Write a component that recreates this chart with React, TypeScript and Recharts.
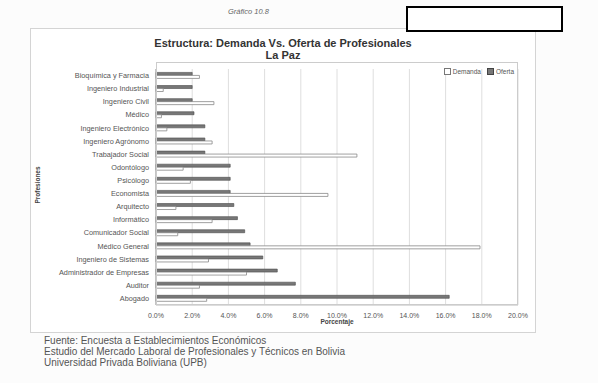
import React from 'react';
import { BarChart, Bar, XAxis, YAxis, CartesianGrid, Legend } from 'recharts';

// Profesiones, de arriba hacia abajo
const profesiones = [
    'Bioquímica y Farmacia',
    'Ingeniero Industrial',
    'Ingeniero Civil',
    'Médico',
    'Ingeniero Electrónico',
    'Ingeniero Agrónomo',
    'Trabajador Social',
    'Odontólogo',
    'Psicólogo',
    'Economista',
    'Arquitecto',
    'Informático',
    'Comunicador Social',
    'Médico General',
    'Ingeniero de Sistemas',
    'Administrador de Empresas',
    'Auditor',
    'Abogado',
];

const demanda = [2.4, 0.4, 3.2, 0.3, 0.6, 3.1, 11.1, 1.5, 1.9, 9.5, 1.1, 3.1, 1.2, 17.9, 2.9, 5.0, 2.4, 2.8];
const oferta = [2.0, 2.0, 2.0, 2.1, 2.7, 2.7, 2.7, 4.1, 4.1, 4.1, 4.3, 4.5, 4.9, 5.2, 5.9, 6.7, 7.7, 16.2];

const xTicks = [0, 2, 4, 6, 8, 10, 12, 14, 16, 18, 20];

const chartData = profesiones.map((name, i) => ({
    name,
    demanda: demanda[i],
    oferta: oferta[i],
}));

const FONT = '"Liberation Sans", Arial, sans-serif';

const LegendBox = () => (
    <div style={{ display: 'flex', gap: 6, fontSize: 6.5, color: '#555', fontFamily: FONT, justifyContent: 'flex-end' }}>
        <span style={{ display: 'flex', alignItems: 'center', gap: 2 }}>
            <span style={{ width: 5, height: 5, border: '1px solid #777', background: '#fff' }} />
            Demanda
        </span>
        <span style={{ display: 'flex', alignItems: 'center', gap: 2 }}>
            <span style={{ width: 5, height: 5, border: '1px solid #444', background: '#777' }} />
            Oferta
        </span>
    </div>
);

// category labels on one line, right aligned
const CategoryTick = (props: any) => {
    const { x, y, payload } = props;
    return (
        <text x={x + 1} y={y} dy={2.5} textAnchor="end" fontSize={7.3} fill="#555" fontFamily={FONT}>
            {payload.value}
        </text>
    );
};

const App: React.FC = () => {
    return (
        <div style={{ position: 'fixed', left: 0, top: 0, width: 598, height: 383, background: '#fcfcfc', fontFamily: FONT, overflow: 'hidden' }}>
            {/* chart frame */}
            <div style={{ position: 'absolute', left: 30, top: 28, width: 504, height: 303, border: '1px solid #d4d4d4', background: '#fff' }} />
            <div style={{ position: 'absolute', left: 228, top: 7, fontSize: 7.5, fontStyle: 'italic', color: '#666' }}>
                Gráfico 10.8
            </div>
            <div style={{ position: 'absolute', left: 406, top: 6, width: 153, height: 22, border: '2px solid #000', background: '#fff' }} />
            <div style={{ position: 'absolute', left: 0, width: 566, top: 37, textAlign: 'center', fontSize: 11, fontWeight: 'bold', color: '#333', lineHeight: '12px' }}>
                Estructura: Demanda Vs. Oferta de Profesionales
                <br />
                La Paz
            </div>

            <div style={{ position: 'absolute', left: 0, top: 0 }}>
                <BarChart
                    width={598}
                    height={383}
                    data={chartData}
                    layout="vertical"
                    margin={{ top: 62, right: 80, left: 46, bottom: 56 }}
                    barCategoryGap="26%"
                    barGap={0}
                >
                    <CartesianGrid horizontal={false} stroke="#dedede" />
                    <XAxis
                        type="number"
                        domain={[0, 20]}
                        ticks={xTicks}
                        tickFormatter={(v: number) => `${v.toFixed(1)}%`}
                        tick={{ fontSize: 7, fill: '#555', fontFamily: FONT }}
                        tickLine={false}
                        axisLine={{ stroke: '#bbb' }}
                        interval={0}
                        height={22}
                    />
                    <YAxis
                        type="category"
                        dataKey="name"
                        width={110}
                        interval={0}
                        tick={<CategoryTick />}
                        tickLine={false}
                        axisLine={{ stroke: '#999' }}
                    />
                    <Legend
                        verticalAlign="top"
                        align="right"
                        wrapperStyle={{ top: 68, right: 84, width: 120 }}
                        content={() => <LegendBox />}
                    />
                    <Bar dataKey="oferta" name="Oferta" fill="#777" stroke="#4a4a4a" strokeWidth={0.6} isAnimationActive={false} />
                    <Bar dataKey="demanda" name="Demanda" fill="#fff" stroke="#888" strokeWidth={0.8} isAnimationActive={false} />
                </BarChart>
            </div>

            {/* plot border */}
            <div style={{ position: 'absolute', left: 156, top: 62, width: 362, height: 243, border: '1px solid #ccc', boxSizing: 'border-box', pointerEvents: 'none' }} />

            <div style={{ position: 'absolute', left: 156, width: 362, top: 318, textAlign: 'center', fontSize: 6.5, fontWeight: 'bold', color: '#444' }}>
                Porcentaje
            </div>
            <div
                style={{
                    position: 'absolute',
                    left: 37,
                    top: 185,
                    transform: 'translate(-50%, -50%) rotate(-90deg)',
                    fontSize: 6.5,
                    fontWeight: 'bold',
                    color: '#444',
                }}
            >
                Profesiones
            </div>

            <div style={{ position: 'absolute', left: 44, top: 335, fontSize: 10, color: '#555', lineHeight: '11px' }}>
                Fuente: Encuesta a Establecimientos Económicos
                <br />
                Estudio del Mercado Laboral de Profesionales y Técnicos en Bolivia
                <br />
                Universidad Privada Boliviana (UPB)
            </div>
        </div>
    );
};

export default App;
